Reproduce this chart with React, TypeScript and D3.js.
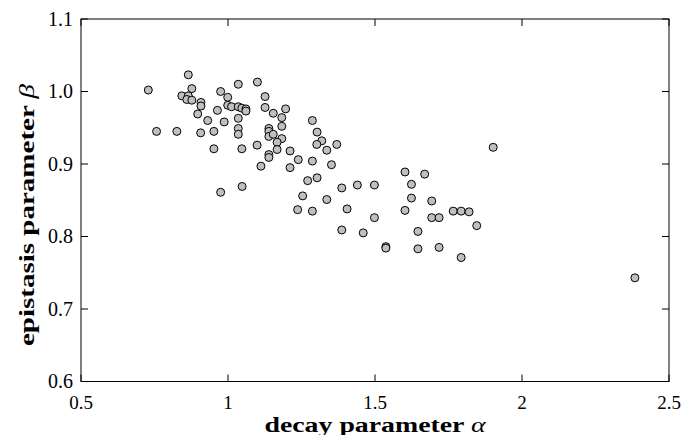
import React from 'react';
import * as d3 from 'd3';

const alphaValues = [
  0.729, 0.757, 0.826, 0.865, 0.877, 0.843, 0.865, 0.860, 0.877, 0.908,
  0.908, 0.897, 0.931, 0.964, 0.975, 0.999, 1.035, 0.999, 1.012, 1.035,
  1.047, 1.061, 1.061, 0.987, 1.035, 1.035, 1.035, 0.907, 0.952, 0.952,
  1.047, 1.100, 1.126, 1.126, 1.154, 1.196, 1.183, 1.183, 1.139, 1.139,
  1.139, 1.154, 1.183, 1.167, 1.099, 1.167, 1.211, 1.139, 1.139, 1.239,
  1.112, 1.211, 1.048, 0.975, 1.237, 1.254, 1.287, 1.303, 1.319, 1.302,
  1.336, 1.370, 1.287, 1.352, 1.303, 1.271, 1.387, 1.440, 1.498, 1.336,
  1.287, 1.405, 1.498, 1.387, 1.460, 1.537, 1.537, 1.602, 1.669, 1.624,
  1.624, 1.693, 1.602, 1.693, 1.718, 1.766, 1.793, 1.820, 1.846, 1.646,
  1.646, 1.718, 1.793, 1.902, 2.384,
];

const betaValues = [
  1.002, 0.945, 0.945, 1.023, 1.004, 0.994, 0.994, 0.989, 0.988, 0.985,
  0.980, 0.969, 0.960, 0.974, 1.000, 0.992, 1.010, 0.981, 0.979, 0.979,
  0.977, 0.976, 0.973, 0.958, 0.963, 0.949, 0.941, 0.943, 0.945, 0.921,
  0.921, 1.013, 0.993, 0.978, 0.970, 0.976, 0.964, 0.952, 0.949, 0.945,
  0.938, 0.941, 0.935, 0.930, 0.926, 0.920, 0.918, 0.913, 0.909, 0.906,
  0.897, 0.895, 0.869, 0.861, 0.837, 0.856, 0.960, 0.944, 0.932, 0.927,
  0.919, 0.927, 0.904, 0.899, 0.881, 0.877, 0.867, 0.871, 0.871, 0.851,
  0.835, 0.838, 0.826, 0.809, 0.805, 0.786, 0.784, 0.889, 0.886, 0.872,
  0.853, 0.849, 0.836, 0.826, 0.826, 0.835, 0.835, 0.834, 0.815, 0.807,
  0.783, 0.785, 0.771, 0.923, 0.743,
];

const xTicks = [0.5, 1, 1.5, 2, 2.5];
const xTickLabels = ['0.5', '1', '1.5', '2', '2.5'];
const yTicks = [0.6, 0.7, 0.8, 0.9, 1.0, 1.1];
const yTickLabels = ['0.6', '0.7', '0.8', '0.9', '1.0', '1.1'];

const xLabel = 'decay parameter ';
const xSymbol = 'α';
const yLabel = 'epistasis parameter ';
const ySymbol = 'β';

export default function App() {
  const W = 685;
  const H = 435;
  const left = 81, right = 669, top = 19, bottom = 381.5;
  const x = d3.scaleLinear().domain([0.5, 2.5]).range([left, right]);
  const y = d3.scaleLinear().domain([0.6, 1.1]).range([bottom, top]);
  const tickLen = 7;
  const font = '"Liberation Serif", "DejaVu Serif", serif';
  const pts = alphaValues.map((a, i) => ({ a, b: betaValues[i] }));

  return (
    <svg
      width={W}
      height={H}
      style={{ position: 'absolute', left: 0, top: 0, background: '#fff' }}
    >
      <rect x={0} y={0} width={W} height={H} fill="#fff" />
      {xTicks.map((t, i) => (
        <g key={'xt' + i}>
          <line x1={x(t)} x2={x(t)} y1={bottom} y2={bottom - tickLen} stroke="#000" strokeWidth={1} />
          <line x1={x(t)} x2={x(t)} y1={top} y2={top + tickLen} stroke="#000" strokeWidth={1} />
          <text
            x={x(t)}
            y={409}
            textAnchor="middle"
            fontFamily={font}
            fontSize={19}
            fill="#000"
          >
            {xTickLabels[i]}
          </text>
        </g>
      ))}
      {yTicks.map((t, i) => (
        <g key={'yt' + i}>
          <line x1={left} x2={left + tickLen} y1={y(t)} y2={y(t)} stroke="#000" strokeWidth={1} />
          <line x1={right} x2={right - tickLen} y1={y(t)} y2={y(t)} stroke="#000" strokeWidth={1} />
          <text
            x={73}
            y={y(t) + 6.5}
            textAnchor="end"
            fontFamily={font}
            fontSize={20}
            fill="#000"
          >
            {yTickLabels[i]}
          </text>
        </g>
      ))}
      {pts.map((p, i) => (
        <circle
          key={'p' + i}
          cx={x(p.a)}
          cy={y(p.b)}
          r={4}
          fill="#bfbfbf"
          stroke="#000"
          strokeWidth={1}
        />
      ))}
      <rect
        x={left}
        y={top}
        width={right - left}
        height={bottom - top}
        fill="none"
        stroke="#000"
        strokeWidth={1}
      />
      <text
        x={(left + right) / 2}
        y={432}
        textAnchor="middle"
        fontFamily={font}
        fontSize={20}
        fontWeight="bold"
        fill="#000"
        textLength={221}
        lengthAdjust="spacingAndGlyphs"
      >
        {xLabel}
        <tspan fontStyle="italic" fontWeight="normal">{xSymbol}</tspan>
      </text>
      <text
        transform={`translate(34, 215) rotate(-90)`}
        textAnchor="middle"
        fontFamily={font}
        fontSize={22}
        fontWeight="bold"
        fill="#000"
        textLength={262}
        lengthAdjust="spacingAndGlyphs"
      >
        {yLabel}
        <tspan fontStyle="italic" fontWeight="normal">{ySymbol}</tspan>
      </text>
    </svg>
  );
}
